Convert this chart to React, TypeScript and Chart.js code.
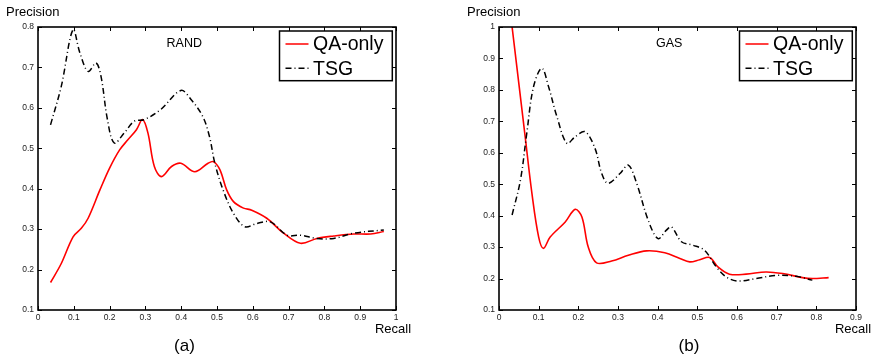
import React, { useEffect, useRef } from 'react';
import { Chart, registerables } from 'chart.js';
Chart.register(...registerables);

// ---------- Data ----------
const seriesNames = ['QA-only', 'TSG'];

// Panel (a) RAND
const randQaRecall = [0.035, 0.065, 0.098, 0.121, 0.14, 0.173, 0.2, 0.228, 0.251, 0.275, 0.292, 0.307, 0.325, 0.345, 0.373, 0.399, 0.438, 0.475, 0.49, 0.508, 0.527, 0.546, 0.574, 0.597, 0.639, 0.686, 0.733, 0.779, 0.826, 0.882, 0.929, 0.966];
const randQaPrecision = [0.168, 0.215, 0.281, 0.302, 0.327, 0.397, 0.451, 0.496, 0.521, 0.546, 0.571, 0.538, 0.455, 0.43, 0.455, 0.463, 0.442, 0.463, 0.467, 0.447, 0.397, 0.368, 0.352, 0.347, 0.327, 0.29, 0.265, 0.277, 0.283, 0.288, 0.288, 0.294];
const randTsgRecall = [0.035, 0.065, 0.098, 0.117, 0.14, 0.162, 0.176, 0.194, 0.213, 0.241, 0.269, 0.297, 0.343, 0.399, 0.428, 0.46, 0.479, 0.494, 0.517, 0.546, 0.578, 0.611, 0.649, 0.696, 0.733, 0.779, 0.826, 0.882, 0.966];
const randTsgPrecision = [0.558, 0.653, 0.794, 0.736, 0.69, 0.711, 0.678, 0.571, 0.513, 0.538, 0.567, 0.571, 0.596, 0.643, 0.62, 0.579, 0.529, 0.463, 0.397, 0.339, 0.306, 0.314, 0.318, 0.285, 0.285, 0.277, 0.277, 0.29, 0.298];

// Panel (b) GAS
const gasQaRecall = [0.033, 0.066, 0.083, 0.1, 0.112, 0.129, 0.167, 0.192, 0.209, 0.225, 0.246, 0.284, 0.326, 0.372, 0.418, 0.456, 0.481, 0.506, 0.531, 0.552, 0.581, 0.623, 0.673, 0.715, 0.765, 0.79, 0.831];
const gasQaPrecision = [1.0, 0.651, 0.471, 0.332, 0.296, 0.332, 0.38, 0.42, 0.396, 0.3, 0.25, 0.256, 0.274, 0.288, 0.282, 0.264, 0.253, 0.26, 0.267, 0.237, 0.214, 0.214, 0.221, 0.216, 0.203, 0.2, 0.203];
const gasTsgRecall = [0.033, 0.054, 0.07, 0.087, 0.108, 0.125, 0.146, 0.171, 0.192, 0.217, 0.242, 0.259, 0.275, 0.305, 0.326, 0.347, 0.376, 0.401, 0.422, 0.435, 0.46, 0.489, 0.518, 0.548, 0.573, 0.602, 0.648, 0.698, 0.749, 0.79];
const gasTsgPrecision = [0.402, 0.513, 0.662, 0.81, 0.869, 0.81, 0.715, 0.63, 0.651, 0.667, 0.614, 0.534, 0.503, 0.534, 0.561, 0.503, 0.386, 0.327, 0.354, 0.364, 0.317, 0.306, 0.29, 0.237, 0.205, 0.192, 0.2, 0.21, 0.207, 0.195];

// Tick labels
const randXTicks = ['0', '0.1', '0.2', '0.3', '0.4', '0.5', '0.6', '0.7', '0.8', '0.9', '1'];
const randYTicks = ['0.1', '0.2', '0.3', '0.4', '0.5', '0.6', '0.7', '0.8'];
const gasXTicks = ['0', '0.1', '0.2', '0.3', '0.4', '0.5', '0.6', '0.7', '0.8', '0.9'];
const gasYTicks = ['0.1', '0.2', '0.3', '0.4', '0.5', '0.6', '0.7', '0.8', '0.9', '1'];

const FONT = '"Liberation Sans", Arial, Helvetica, sans-serif';

const zip = (xs: number[], ys: number[]) => xs.map((x, i) => ({ x, y: ys[i] }));

const framePlugin = {
  id: 'frame',
  afterDraw(chart: any, _args: any, opts: any) {
    const { ctx, chartArea: a, scales } = chart;
    const xs = scales.x;
    const ys = scales.y;
    ctx.save();
    ctx.strokeStyle = '#000';
    ctx.lineWidth = 1;
    const line = (x1: number, y1: number, x2: number, y2: number) => {
      ctx.beginPath();
      ctx.moveTo(x1, y1);
      ctx.lineTo(x2, y2);
      ctx.stroke();
    };
    const tl = 4;
    xs.ticks.forEach((t: any) => {
      const p = Math.round(xs.getPixelForValue(t.value)) + 0.5;
      line(p, a.bottom, p, a.bottom - tl);
      line(p, a.top, p, a.top + tl);
    });
    ys.ticks.forEach((t: any) => {
      const p = Math.round(ys.getPixelForValue(t.value)) + 0.5;
      line(a.left, p, a.left + tl, p);
      line(a.right, p, a.right - tl, p);
    });
    ctx.lineWidth = 1.6;
    ctx.strokeRect(a.left, a.top, a.right - a.left, a.bottom - a.top);

    // texts
    ctx.fillStyle = '#000';
    ctx.textBaseline = 'middle';
    ctx.font = `13px ${FONT}`;
    ctx.textAlign = 'left';
    ctx.fillText('Precision', a.left - 32, 12);
    ctx.textAlign = 'center';
    ctx.fillText('Recall', a.right - 3, 329);
    ctx.font = `17px ${FONT}`;
    ctx.fillText(opts.panel, opts.panelX, 346);
    ctx.font = `12.5px ${FONT}`;
    ctx.fillText(opts.title, opts.titleX, 44);

    // legend
    const bl = a.right - 116.5;
    const br = a.right - 3.7;
    const bt = 31;
    const bb = 80.7;
    ctx.fillStyle = '#fff';
    ctx.fillRect(bl, bt, br - bl, bb - bt);
    ctx.lineWidth = 1.5;
    ctx.strokeStyle = '#000';
    ctx.strokeRect(bl, bt, br - bl, bb - bt);
    const rows = [
      { y: 44, color: '#ff0000', dash: [] as number[], label: seriesNames[0] },
      { y: 68.3, color: '#000', dash: [6, 3, 1, 3], label: seriesNames[1] },
    ];
    rows.forEach((r) => {
      ctx.strokeStyle = r.color;
      ctx.lineWidth = 1.5;
      ctx.setLineDash(r.dash);
      line(bl + 6, r.y, bl + 29, r.y);
      ctx.setLineDash([]);
      ctx.fillStyle = '#000';
      ctx.font = `19.5px ${FONT}`;
      ctx.textAlign = 'left';
      ctx.textBaseline = 'middle';
      ctx.fillText(r.label, bl + 33.5, r.y + 1);
    });
    ctx.restore();
  },
};

type PanelProps = {
  qa: { x: number; y: number }[];
  tsg: { x: number; y: number }[];
  xTicks: string[];
  yTicks: string[];
  yAxisWidth: number;
  padRight: number;
  title: string;
  titleX: number;
  panel: string;
  panelX: number;
};

function Panel(p: PanelProps) {
  const ref = useRef<HTMLCanvasElement>(null);
  useEffect(() => {
    if (!ref.current) return;
    const xVals = p.xTicks.map(parseFloat);
    const yVals = p.yTicks.map(parseFloat);
    const tickFont = { family: FONT, size: 8.5 };
    const chart = new Chart(ref.current, {
      type: 'line',
      data: {
        datasets: [
          {
            label: seriesNames[1],
            data: p.tsg,
            borderColor: '#000',
            borderWidth: 1.5,
            borderDash: [6, 3, 1, 3],
            pointRadius: 0,
            tension: 0.35,
            fill: false,
          },
          {
            label: seriesNames[0],
            data: p.qa,
            borderColor: '#ff0000',
            borderWidth: 1.6,
            pointRadius: 0,
            tension: 0.35,
            fill: false,
          },
        ],
      },
      options: {
        animation: false,
        responsive: false,
        devicePixelRatio: 1,
        layout: { padding: { left: 0, top: 27, right: p.padRight, bottom: 31 } },
        plugins: {
          legend: { display: false },
          tooltip: { enabled: false },
          frame: { title: p.title, titleX: p.titleX, panel: p.panel, panelX: p.panelX },
        } as any,
        scales: {
          x: {
            type: 'linear',
            min: xVals[0],
            max: xVals[xVals.length - 1],
            grid: { display: false, drawTicks: false },
            border: { display: false },
            afterBuildTicks: (s: any) => {
              s.ticks = xVals.map((v) => ({ value: v }));
            },
            afterFit: (s: any) => {
              s.height = 20;
            },
            ticks: {
              padding: 3,
              color: '#222',
              font: tickFont,
              maxRotation: 0,
              autoSkip: false,
              callback: (_v: any, i: number) => p.xTicks[i],
            },
          },
          y: {
            type: 'linear',
            min: yVals[0],
            max: yVals[yVals.length - 1],
            grid: { display: false, drawTicks: false },
            border: { display: false },
            afterBuildTicks: (s: any) => {
              s.ticks = yVals.map((v) => ({ value: v }));
            },
            afterFit: (s: any) => {
              s.width = p.yAxisWidth;
            },
            ticks: {
              padding: 4,
              color: '#222',
              font: tickFont,
              autoSkip: false,
              callback: (_v: any, i: number) => p.yTicks[i],
            },
          },
        },
      },
      plugins: [framePlugin as any],
    });
    return () => chart.destroy();
  }, []);
  return <canvas ref={ref} width={438} height={361} style={{ display: 'block', width: 438, height: 361 }} />;
}

export default function App() {
  return (
    <div style={{ position: 'fixed', left: 0, top: 0, width: 876, height: 361, background: '#fff', display: 'flex' }}>
      <Panel
        qa={zip(randQaRecall, randQaPrecision)}
        tsg={zip(randTsgRecall, randTsgPrecision)}
        xTicks={randXTicks}
        yTicks={randYTicks}
        yAxisWidth={38}
        padRight={42}
        title="RAND"
        titleX={184.3}
        panel="(a)"
        panelX={184.5}
      />
      <Panel
        qa={zip(gasQaRecall, gasQaPrecision)}
        tsg={zip(gasTsgRecall, gasTsgPrecision)}
        xTicks={gasXTicks}
        yTicks={gasYTicks}
        yAxisWidth={61}
        padRight={20}
        title="GAS"
        titleX={231.2}
        panel="(b)"
        panelX={251}
      />
    </div>
  );
}
